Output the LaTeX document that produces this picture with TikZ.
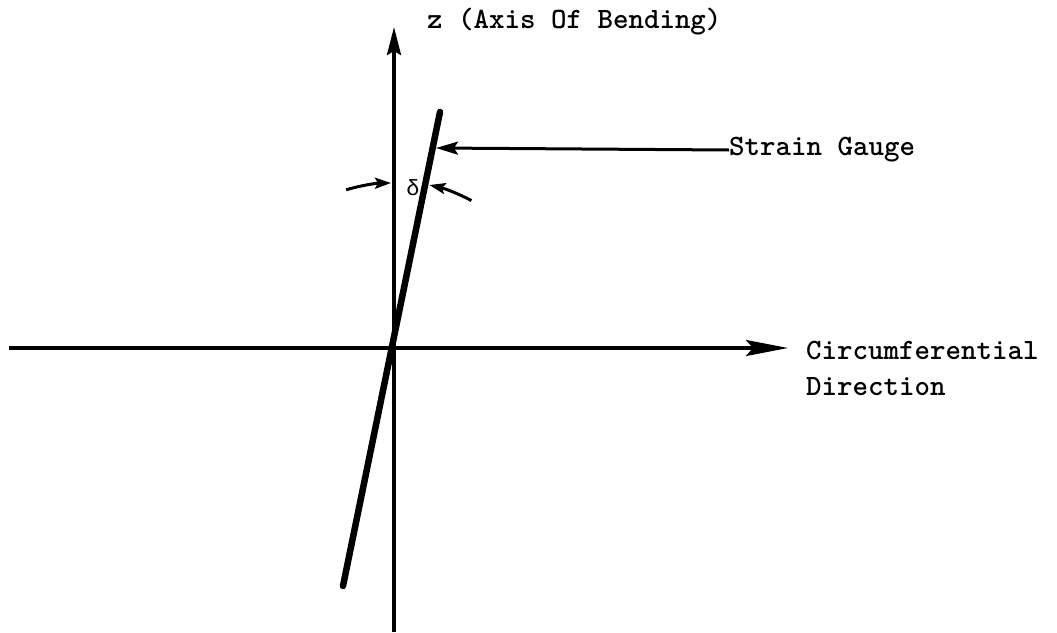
\documentclass[tikz,border=0pt]{standalone}
\usepackage{fontspec}
\setmainfont{Liberation Mono}
\usetikzlibrary{arrows.meta,calc}
\begin{document}
\begin{tikzpicture}[x=1pt,y=-1pt,
  axisline/.style={line width=3.4pt},
  gaugeline/.style={line width=6.5pt,line cap=round},
  leaderline/.style={line width=3pt},
  anglearc/.style={line width=3pt},
  lbl/.style={font=\ttfamily\bfseries\fontsize{29.5}{32}\selectfont,inner sep=0pt},
]
\useasboundingbox (0,0) rectangle (1057,632);
\coordinate (O) at (393,348);
\coordinate (xl) at (9,348);
\coordinate (xr) at (788,348);
\coordinate (zb) at (394,632);
\coordinate (zt) at (394,27);
\coordinate (ga) at (343,586);
\coordinate (gb) at (440,112);
\coordinate (gl) at (436,148);
% axes
\draw[axisline,-{Stealth[length=42pt,width=16pt,inset=7pt]}] (xl) -- (xr);
\draw[axisline,-{Stealth[length=28pt,width=14pt,inset=4pt]}] (zb) -- (zt);
% gauge
\draw[gaugeline] (ga) -- (gb);
% labels
\node[lbl,anchor=west] (zlab) at (427,22) {z (Axis Of Bending)};
\node[lbl,anchor=west] (sg) at (729,150) {Strain Gauge};
\node[lbl,anchor=west] (circ) at (806,350) {Circumferential};
\node[lbl,anchor=west] (dir) at (806,387) {Direction};
\node[font=\fontsize{22}{24}\selectfont,inner sep=0pt] (delta) at (413,188) {δ};
% leader
\draw[leaderline,-{Stealth[length=22pt,width=13pt,inset=4pt]}] (sg.west) -- (gl);
% angle arcs
\draw[anglearc,-{Stealth[length=16pt,width=11pt,inset=3pt]}] (O) ++(106.5:165pt) arc[start angle=106.5,end angle=90.7,radius=165pt];
\draw[anglearc,-{Stealth[length=16pt,width=11pt,inset=3pt]}] (O) ++(62:167pt) arc[start angle=62,end angle=77.4,radius=167pt];
\end{tikzpicture}
\end{document}
